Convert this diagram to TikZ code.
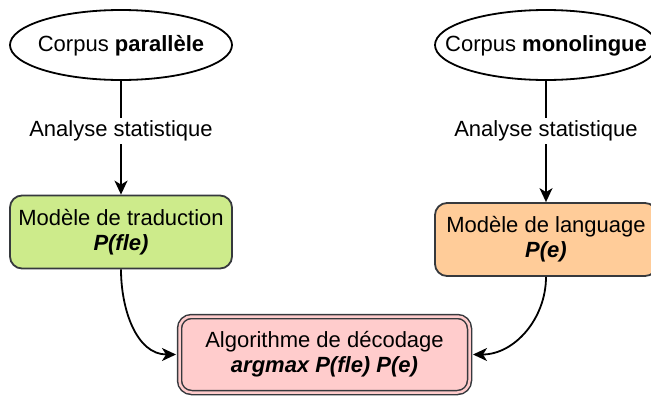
\documentclass[tikz,border=0pt]{standalone}
\usepackage{fontspec}
\setmainfont{Liberation Sans}
\usetikzlibrary{shapes.geometric,arrows.meta}
\definecolor{bd}{HTML}{36393D}
\definecolor{greenf}{HTML}{CDEB8B}
\definecolor{orangef}{HTML}{FFCC99}
\definecolor{pinkf}{HTML}{FFCCCC}
\begin{document}
\begin{tikzpicture}[x=1pt,y=-1pt,
  font=\fontsize{22}{25}\selectfont,
  corpus/.style={minimum width=222pt, minimum height=70pt, inner sep=0pt},
  ell/.style={draw=black, line width=1.8pt},
  modelbox/.style={draw=bd, line width=1.8pt, rounded corners=12pt, minimum width=222pt, minimum height=73pt, align=center, inner sep=0pt},
  algobox/.style={draw=bd, line width=1.5pt, double=pinkf, double distance=2.5pt, fill=pinkf, rounded corners=12pt, minimum width=290pt, minimum height=76pt, align=center, inner sep=0pt, outer sep=3.5pt},
  lbl/.style={inner sep=3pt},
  conn/.style={line width=1.8pt, draw=black},
  arr/.style={conn, -{Stealth[length=14pt,width=13pt,inset=4pt]}}
]
\useasboundingbox (0,0) rectangle (651,397);
\draw[ell] (121,45) ellipse [x radius=111, y radius=35];
\draw[ell] (546,45) ellipse [x radius=111, y radius=35];
\node[corpus] (e1) at (121,46) {Corpus \textbf{parallèle}};
\node[corpus] (e2) at (546,46) {Corpus \textbf{monolingue}};
\node[lbl] (l1) at (121,131) {Analyse statistique};
\node[lbl] (l2) at (546,131) {Analyse statistique};
\node[modelbox, fill=greenf] (g1) at (121,232) {Modèle de traduction\\\textbf{\textit{P(fle)}}};
\node[modelbox, fill=orangef] (o1) at (546,239.5) {Modèle de language\\\textbf{\textit{P(e)}}};
\node[algobox] (pk) at (324.5,354.5) {Algorithme de décodage\\\textbf{\textit{argmax P(fle) P(e)}}};
\draw[conn] (e1.south) -- (l1.north);
\draw[arr] (l1.south) -- (g1.north);
\draw[conn] (e2.south) -- (l2.north);
\draw[arr] (l2.south) -- (o1.north);
\draw[arr] (g1.south) to[out=-90,in=180] (pk.west);
\draw[arr] (o1.south) to[out=-90,in=0] (pk.east);
\end{tikzpicture}
\end{document}
